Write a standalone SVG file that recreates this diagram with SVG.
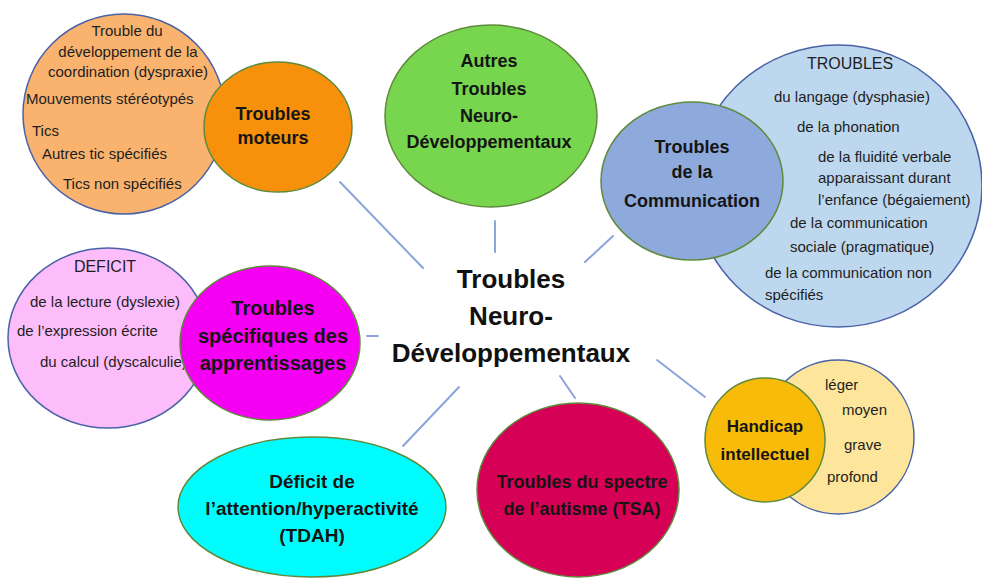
<svg xmlns="http://www.w3.org/2000/svg" width="982" height="578" viewBox="0 0 982 578">
<defs>
<style>
text { font-family: "Liberation Sans", Arial, sans-serif; }
.sub { font-size: 15px; fill: #1e1e1e; }
.cap { font-size: 16px; fill: #1e1e1e; text-anchor: middle; }
.lbl { font-size: 18px; font-weight: bold; fill: #151515; text-anchor: middle; }
.title { font-size: 26px; font-weight: bold; fill: #111; text-anchor: middle; }
.light { stroke: #4a62a6; stroke-width: 1.5; }
.main { stroke: #5f8a3c; stroke-width: 1.5; }
.conn line { stroke: #8ba4dc; stroke-width: 2; stroke-linecap: round; }
</style>
</defs>
<rect width="982" height="578" fill="#ffffff"/>

<g id="connectors" class="conn">
<line x1="340" y1="182" x2="423" y2="268"/>
<line x1="495" y1="221" x2="495" y2="252"/>
<line x1="613" y1="236" x2="585" y2="262"/>
<line x1="367" y1="336" x2="378" y2="336"/>
<line x1="560" y1="376" x2="575" y2="398"/>
<line x1="459" y1="387" x2="403" y2="446"/>
<line x1="657" y1="360" x2="705" y2="397"/>
</g>

<g id="title">
<text class="title" x="511" y="288">Troubles</text>
<text class="title" x="511" y="325">Neuro-</text>
<text class="title" x="511" y="362">Développementaux</text>
</g>

<g id="moteurs-details">
<ellipse cx="124" cy="114" rx="101" ry="100" fill="#f9b36f" class="light"/>
<text class="sub" x="127" y="36" text-anchor="middle">Trouble du</text>
<text class="sub" x="128" y="57" text-anchor="middle">développement de la</text>
<text class="sub" x="128" y="77" text-anchor="middle">coordination (dyspraxie)</text>
<text class="sub" x="26" y="104">Mouvements stéréotypés</text>
<text class="sub" x="32" y="136">Tics</text>
<text class="sub" x="42" y="159">Autres tic spécifiés</text>
<text class="sub" x="63" y="189">Tics non spécifiés</text>
</g>
<g id="moteurs">
<ellipse cx="278" cy="127" rx="74" ry="65" fill="#f7910c" class="main"/>
<text class="lbl" x="273" y="120">Troubles</text>
<text class="lbl" x="273" y="144">moteurs</text>
</g>

<g id="autres">
<ellipse cx="491" cy="116" rx="106" ry="91" fill="#77d64e" class="main"/>
<text class="lbl" x="489" y="67">Autres</text>
<text class="lbl" x="489" y="95">Troubles</text>
<text class="lbl" x="489" y="122">Neuro-</text>
<text class="lbl" x="489" y="148">Développementaux</text>
</g>

<g id="communication-details">
<ellipse cx="838" cy="186" rx="144" ry="141" fill="#bdd7ee" class="light"/>
<text class="cap" x="850" y="69">TROUBLES</text>
<text class="sub" x="774" y="102">du langage (dysphasie)</text>
<text class="sub" x="797" y="132">de la phonation</text>
<text class="sub" x="818" y="162">de la fluidité verbale</text>
<text class="sub" x="818" y="183">apparaissant durant</text>
<text class="sub" x="818" y="205">l’enfance (bégaiement)</text>
<text class="sub" x="790" y="228">de la communication</text>
<text class="sub" x="790" y="252">sociale (pragmatique)</text>
<text class="sub" x="765" y="278">de la communication non</text>
<text class="sub" x="765" y="300">spécifiés</text>
</g>
<g id="communication">
<ellipse cx="692" cy="181" rx="91" ry="79" fill="#8ea9dc" class="main"/>
<text class="lbl" x="692" y="153">Troubles</text>
<text class="lbl" x="692" y="178">de la</text>
<text class="lbl" x="692" y="207">Communication</text>
</g>

<g id="apprentissages-details">
<ellipse cx="108" cy="338" rx="100" ry="90" fill="#fdbdfb" class="light"/>
<text class="cap" x="105" y="272">DEFICIT</text>
<text class="sub" x="30" y="307">de la lecture (dyslexie)</text>
<text class="sub" x="17" y="336">de l’expression écrite</text>
<text class="sub" x="40" y="367">du calcul (dyscalculie)</text>
</g>
<g id="apprentissages">
<ellipse cx="270" cy="343" rx="90" ry="77" fill="#f500f2" class="main"/>
<text class="lbl" x="273" y="315" style="font-size:20px">Troubles</text>
<text class="lbl" x="273" y="343" style="font-size:20px">spécifiques des</text>
<text class="lbl" x="273" y="370" style="font-size:20px">apprentissages</text>
</g>

<g id="tdah">
<ellipse cx="312" cy="507" rx="134" ry="70" fill="#00fdfd" class="main"/>
<text class="lbl" x="312" y="488" style="font-size:19px">Déficit de</text>
<text class="lbl" x="312" y="515" style="font-size:19px">l’attention/hyperactivité</text>
<text class="lbl" x="312" y="542" style="font-size:19px">(TDAH)</text>
</g>

<g id="tsa">
<ellipse cx="578" cy="490" rx="101" ry="87" fill="#d60057" class="main"/>
<text class="lbl" x="582" y="488">Troubles du spectre</text>
<text class="lbl" x="582" y="515">de l’autisme (TSA)</text>
</g>

<g id="handicap-details">
<ellipse cx="838" cy="437" rx="76" ry="77" fill="#fde69b" class="light"/>
<text class="sub" x="825" y="390">léger</text>
<text class="sub" x="842" y="415">moyen</text>
<text class="sub" x="844" y="450">grave</text>
<text class="sub" x="827" y="482">profond</text>
</g>
<g id="handicap">
<ellipse cx="765" cy="440" rx="60" ry="62" fill="#f8bb0a" class="main"/>
<text class="lbl" x="765" y="432" style="font-size:17px">Handicap</text>
<text class="lbl" x="765" y="460" style="font-size:17px">intellectuel</text>
</g>
</svg>
